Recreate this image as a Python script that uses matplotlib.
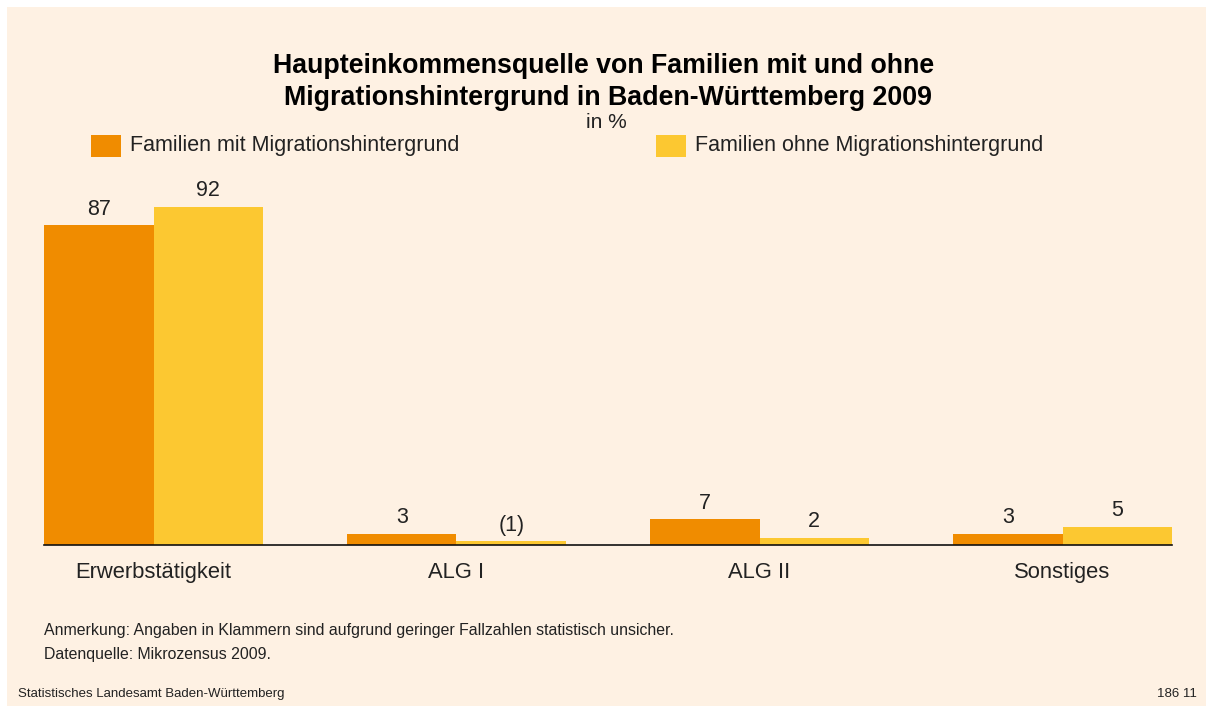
import numpy as np
import matplotlib.pyplot as plt
from matplotlib.patches import Rectangle

plt.rcParams['font.family'] = ['Liberation Sans', 'DejaVu Sans']

# Daten (in %)
kategorien = ['Erwerbstätigkeit', 'ALG I', 'ALG II', 'Sonstiges']
mit_migration = [87, 3, 7, 3]
ohne_migration = [92, 1, 2, 5]
labels_mit = ['87', '3', '7', '3']
labels_ohne = ['92', '(1)', '2', '5']

c_mit = '#F08C00'
c_ohne = '#FCC831'
bg = '#FEF1E3'
W, H = 1206, 706

fig = plt.figure(figsize=(W / 100, H / 100), dpi=100)
fig.patch.set_facecolor('white')
fig.patches.append(Rectangle((7 / W, 0), 1 - 7 / W, 1 - 7 / H, transform=fig.transFigure,
                             facecolor=bg, edgecolor='none', zorder=-10))

ax = fig.add_axes([44 / W, (H - 545) / H, (1172 - 44) / W, 367.4 / H])
ax.set_facecolor('none')

x = np.arange(len(kategorien))
bw = 109.5 / 303
ax.bar(x - bw / 2, mit_migration, bw, color=c_mit, zorder=2)
ax.bar(x + bw / 2, ohne_migration, bw, color=c_ohne, zorder=2)

# Werte über den Balken
for xi, v, t in zip(x, mit_migration, labels_mit):
    ax.text(xi - bw / 2, v + 2.9, t, ha='center', va='baseline', fontsize=15.5, color='#222222')
for xi, v, t in zip(x, ohne_migration, labels_ohne):
    ax.text(xi + bw / 2, v + 2.9, t, ha='center', va='baseline', fontsize=15.5, color='#222222')

ax.set_xlim(-bw, 3 + bw)
ax.set_ylim(0, 100)
for s in ['top', 'right', 'left']:
    ax.spines[s].set_visible(False)
ax.spines['bottom'].set_color('#111111')
ax.spines['bottom'].set_linewidth(1.2)
ax.set_yticks([])
ax.set_xticks(x)
ax.set_xticklabels(kategorien, fontsize=15.8, color='#222222')
ax.tick_params(axis='x', length=0, pad=12)

# Titel
fig.text(604 / W, 1 - 66 / H, 'Haupteinkommensquelle von Familien mit und ohne',
         ha='center', va='center', fontsize=19.3, fontweight='bold', color='black')
fig.text(608 / W, 1 - 98 / H, 'Migrationshintergrund in Baden-Württemberg 2009',
         ha='center', va='center', fontsize=19.3, fontweight='bold', color='black')
fig.text(606 / W, 1 - 123 / H, 'in %', ha='center', va='center', fontsize=15, color='#222222')

# Legende
for x0, col, txt in [(91, c_mit, 'Familien mit Migrationshintergrund'),
                     (656, c_ohne, 'Familien ohne Migrationshintergrund')]:
    fig.patches.append(Rectangle((x0 / W, 1 - 157 / H), 30 / W, 22 / H,
                                 transform=fig.transFigure, facecolor=col, edgecolor='none'))
    fig.text((x0 + 39) / W, 1 - 146 / H, txt, ha='left', va='center', fontsize=15.5, color='#222222')

# Fußnoten
fig.text(44 / W, 1 - 630 / H, 'Anmerkung: Angaben in Klammern sind aufgrund geringer Fallzahlen statistisch unsicher.',
         ha='left', va='center', fontsize=11.4, color='#222222')
fig.text(44 / W, 1 - 655 / H, 'Datenquelle: Mikrozensus 2009.',
         ha='left', va='center', fontsize=11.4, color='#222222')
fig.text(18 / W, 1 - 694 / H, 'Statistisches Landesamt Baden-Württemberg',
         ha='left', va='center', fontsize=9.5, color='#222222')
fig.text(1197 / W, 1 - 694 / H, '186 11', ha='right', va='center', fontsize=9.5, color='#222222')

fig.savefig('out.png', dpi=100, facecolor=fig.get_facecolor())
